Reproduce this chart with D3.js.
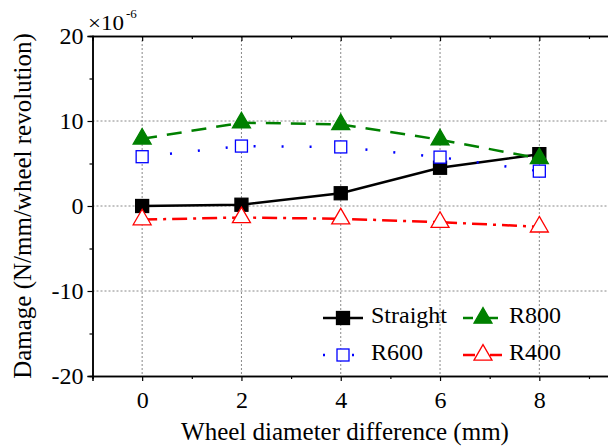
<!DOCTYPE html>
<html>
<head>
<meta charset="utf-8">
<script src="https://cdn.jsdelivr.net/npm/d3@7"></script>
<style>
  body { margin: 0; background: #fff; }
  svg text { font-family: "Liberation Serif", "Times New Roman", serif !important; fill: #000; }
</style>
</head>
<body>
<svg id="chart" width="608" height="447" font-family="Liberation Serif"></svg>
<script>
let xValues = [0, 2, 4, 6, 8]
let straight = [0.0, 0.15, 1.5, 4.5, 6.1]
let r800 = [7.9, 9.8, 9.6, 7.8, 5.6]
let r600 = [5.8, 7.05, 6.95, 5.75, 4.1]
let r400 = [-1.6, -1.35, -1.5, -1.9, -2.45]
let xTicks = [0, 2, 4, 6, 8]
let xMinor = [-1, 1, 3, 5, 7, 9]
let yTicks = [-20, -10, 0, 10, 20]
let yMinor = [-15, -5, 5, 15]
let gridY = [-10, 0, 10]

let svg = d3.select('#chart')
let x = d3.scaleLinear().domain([-1, 9.5]).range([92.5, 613.8])
let y = d3.scaleLinear().domain([-20, 20]).range([376, 36])

// grid
svg.selectAll('.gx').data(xTicks).enter().append('line')
   .attr('x1', d => x(d)).attr('x2', d => x(d))
   .attr('y1', y(20)).attr('y2', y(-20))
   .attr('stroke', '#888').attr('stroke-width', 1).attr('stroke-dasharray', '2,2')
svg.selectAll('.gy').data(gridY).enter().append('line')
   .attr('x1', x(-1)).attr('x2', 608)
   .attr('y1', d => y(d)).attr('y2', d => y(d))
   .attr('stroke', '#888').attr('stroke-width', 1).attr('stroke-dasharray', '2,2')

let fmt = d => String(d)

// axes
svg.append('g').attr('transform', `translate(0,${y(-20)})`)
    .call(d3.axisBottom(x).tickValues(xTicks).tickFormat(fmt).tickSize(5).tickPadding(10))
svg.append('g').attr('transform', `translate(0,${y(-20)})`)
    .call(d3.axisBottom(x).tickValues(xMinor).tickFormat('').tickSize(3))
svg.append('g').attr('transform', `translate(0,${y(20)})`)
    .call(d3.axisBottom(x).tickValues(xTicks).tickFormat('').tickSize(5))
svg.append('g').attr('transform', `translate(0,${y(20)})`)
    .call(d3.axisBottom(x).tickValues(xMinor).tickFormat('').tickSize(3))
svg.append('g').attr('transform', `translate(${x(-1)},0)`)
    .call(d3.axisLeft(y).tickValues(yTicks).tickFormat(fmt).tickSize(5).tickPadding(4))
svg.append('g').attr('transform', `translate(${x(-1)},0)`)
    .call(d3.axisLeft(y).tickValues(yMinor).tickFormat('').tickSize(3))

svg.selectAll('g').attr('font-family', null).attr('font-size', null)
svg.selectAll('.domain').attr('stroke', '#000').attr('stroke-width', 1.5)
svg.selectAll('.tick line').attr('stroke', '#000').attr('stroke-width', 1.2)
svg.selectAll('.tick text').attr('font-size', 24).style('font-size', '24px')

// multiplier
svg.append('text').attr('x', 88).attr('y', 30).style('font-size', '20px')
   .attr('textLength', 36).attr('lengthAdjust', 'spacingAndGlyphs').text('\u00d710')
svg.append('text').attr('x', 126).attr('y', 18).style('font-size', '13px').text('-6')

// axis titles
svg.append('text').attr('x', 345).attr('y', 440).attr('text-anchor', 'middle')
   .attr('font-size', 25).style('font-size', '25px').text('Wheel diameter difference (mm)')
svg.append('text').attr('transform', `translate(31,206) rotate(-90)`)
   .attr('text-anchor', 'middle').attr('font-size', 25).style('font-size', '25px')
   .text('Damage (N/mm/wheel revolution)')

let series = [
  {name: 'Straight', values: straight, color: '#000', dash: null, legDash: null, marker: 'square', fill: true},
  {name: 'R800', values: r800, color: '#008000', dash: '15,10', legDash: '10,15', marker: 'triangle', fill: true},
  {name: 'R600', values: r600, color: '#0000ff', dash: '2,26', legDash: '2,27', marker: 'square', fill: false},
  {name: 'R400', values: r400, color: '#ff0000', dash: '15,6,3,6', legDash: '12,15', marker: 'triangle', fill: false}
]

let line = d3.line().x(d => x(d[0])).y(d => y(d[1]))

let drawMarker = (g, s, cx, cy) => {
  if (s.marker === 'square') {
    let h = s.fill ? 6.5 : 6
    g.append('rect').attr('x', cx - h).attr('y', cy - h).attr('width', 2 * h).attr('height', 2 * h)
     .attr('fill', s.fill ? s.color : '#fff').attr('stroke', s.color).attr('stroke-width', 1.3)
  } else {
    let sym = d3.symbol().type(d3.symbolTriangle).size(140)
    g.append('path').attr('d', sym()).attr('transform', `translate(${cx},${cy})`)
     .attr('fill', s.fill ? s.color : '#fff').attr('stroke', s.color).attr('stroke-width', 1.3)
  }
}

series.forEach(s => {
  let pts = xValues.map((v, i) => [v, s.values[i]])
  svg.append('path').datum(pts).attr('d', line)
     .attr('fill', 'none').attr('stroke', s.color).attr('stroke-width', 2.5)
     .attr('stroke-dasharray', s.dash)
  let g = svg.append('g')
  pts.forEach(p => drawMarker(g, s, x(p[0]), y(p[1])))
})

// legend
let legendPos = [
  {s: series[0], lx: 323, ly: 318, tx: 371},
  {s: series[1], lx: 463, ly: 318, tx: 509},
  {s: series[2], lx: 323, ly: 355, tx: 371},
  {s: series[3], lx: 463, ly: 355, tx: 509}
]
legendPos.forEach(p => {
  let g = svg.append('g')
  g.append('line').attr('x1', p.lx).attr('x2', p.lx + 40).attr('y1', p.ly).attr('y2', p.ly)
   .attr('stroke', p.s.color).attr('stroke-width', 2.5)
   .attr('stroke-dasharray', p.s.legDash)
  drawMarker(g, p.s, p.lx + 20, p.ly)
  g.append('text').attr('x', p.tx).attr('y', p.ly + 5).attr('font-size', 24)
   .style('font-size', '24px').text(p.s.name)
})
</script>
</body>
</html>
